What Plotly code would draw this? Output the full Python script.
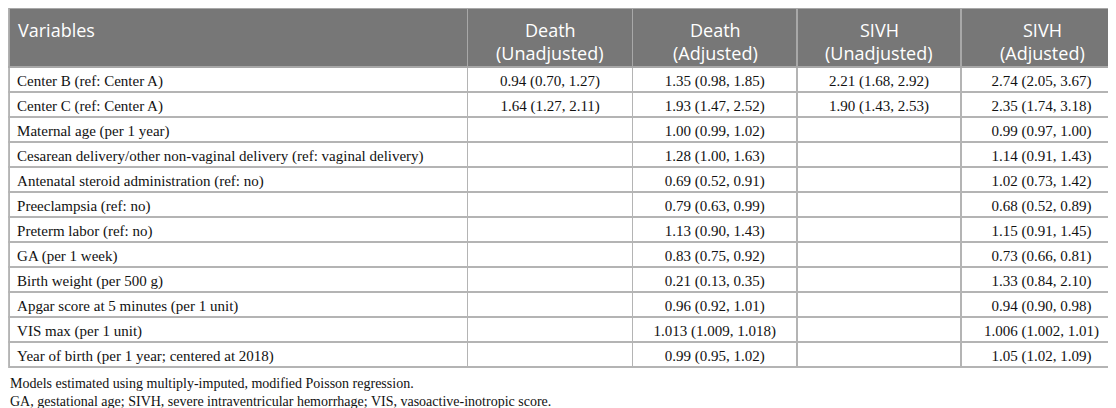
import plotly.graph_objects as go

# ---------------------------------------------------------------------------
# Data
# ---------------------------------------------------------------------------

header_labels = [
    "Variables",
    "Death<br>(Unadjusted)",
    "Death<br>(Adjusted)",
    "SIVH<br>(Unadjusted)",
    "SIVH<br>(Adjusted)",
]

variables = [
    "Center B (ref: Center A)",
    "Center C (ref: Center A)",
    "Maternal age (per 1 year)",
    "Cesarean delivery/other non-vaginal delivery (ref: vaginal delivery)",
    "Antenatal steroid administration (ref: no)",
    "Preeclampsia (ref: no)",
    "Preterm labor (ref: no)",
    "GA (per 1 week)",
    "Birth weight (per 500 g)",
    "Apgar score at 5 minutes (per 1 unit)",
    "VIS max (per 1 unit)",
    "Year of birth (per 1 year; centered at 2018)",
]

death_unadj = ["0.94 (0.70, 1.27)", "1.64 (1.27, 2.11)"] + [""] * 10

death_adj = [
    "1.35 (0.98, 1.85)",
    "1.93 (1.47, 2.52)",
    "1.00 (0.99, 1.02)",
    "1.28 (1.00, 1.63)",
    "0.69 (0.52, 0.91)",
    "0.79 (0.63, 0.99)",
    "1.13 (0.90, 1.43)",
    "0.83 (0.75, 0.92)",
    "0.21 (0.13, 0.35)",
    "0.96 (0.92, 1.01)",
    "1.013 (1.009, 1.018)",
    "0.99 (0.95, 1.02)",
]

sivh_unadj = ["2.21 (1.68, 2.92)", "1.90 (1.43, 2.53)"] + [""] * 10

sivh_adj = [
    "2.74 (2.05, 3.67)",
    "2.35 (1.74, 3.18)",
    "0.99 (0.97, 1.00)",
    "1.14 (0.91, 1.43)",
    "1.02 (0.73, 1.42)",
    "0.68 (0.52, 0.89)",
    "1.15 (0.91, 1.45)",
    "0.73 (0.66, 0.81)",
    "1.33 (0.84, 2.10)",
    "0.94 (0.90, 0.98)",
    "1.006 (1.002, 1.01)",
    "1.05 (1.02, 1.09)",
]

footnotes = [
    "Models estimated using multiply-imputed, modified Poisson regression.",
    "GA, gestational age; SIVH, severe intraventricular hemorrhage; VIS, vasoactive-inotropic score.",
]

# ---------------------------------------------------------------------------
# Figure
# ---------------------------------------------------------------------------

W, H = 1116, 408
COL_WIDTHS = [458, 165, 164, 164, 161]
X0, X1 = 0.001, 0.999
HEADER_H = 59

fig = go.Figure(go.Table(
    columnwidth=COL_WIDTHS,
    # header text is drawn as annotations below so the line spacing can match
    header=dict(
        values=[""] * len(header_labels),
        fill_color="#777777",
        line=dict(color="#a8a8a8", width=1.5),
        height=HEADER_H,
    ),
    cells=dict(
        values=[variables, death_unadj, death_adj, sivh_unadj, sivh_adj],
        fill_color="white",
        line=dict(color="#b4b4b4", width=1.5),
        align=["left", "center", "center", "center", "center"],
        font=dict(family="Liberation Serif", size=15, color="#111111"),
        height=25,
    ),
    domain=dict(x=[X0, X1], y=[0, 1]),
))

# column edges in paper coordinates
total = sum(COL_WIDTHS)
edges = [X0]
for w in COL_WIDTHS:
    edges.append(edges[-1] + (X1 - X0) * w / total)

header_font = dict(family="Open Sans", size=18, color="white")
for i, label in enumerate(header_labels):
    lines = label.split("<br>")
    if i == 0:
        fig.add_annotation(
            text=lines[0], xref="paper", yref="paper",
            x=edges[0] + 7 / W, y=1 - 22 / H,
            xanchor="left", yanchor="middle", showarrow=False,
            font=header_font,
        )
        continue
    xc = (edges[i] + edges[i + 1]) / 2
    for j, line in enumerate(lines):
        fig.add_annotation(
            text=line, xref="paper", yref="paper",
            x=xc, y=1 - (22 + 23 * j) / H,
            xanchor="center", yanchor="middle", showarrow=False,
            font=header_font,
        )

for i, note in enumerate(footnotes):
    fig.add_annotation(
        text=note, xref="paper", yref="paper",
        x=0.0, y=1 - (375 + 18 * i) / H,
        xanchor="left", yanchor="middle", showarrow=False,
        font=dict(family="Liberation Serif", size=14, color="#111111"),
    )

fig.update_layout(
    width=W, height=H,
    margin=dict(l=0, r=0, t=0, b=0),
    paper_bgcolor="white",
)

fig.write_html("out.html")
